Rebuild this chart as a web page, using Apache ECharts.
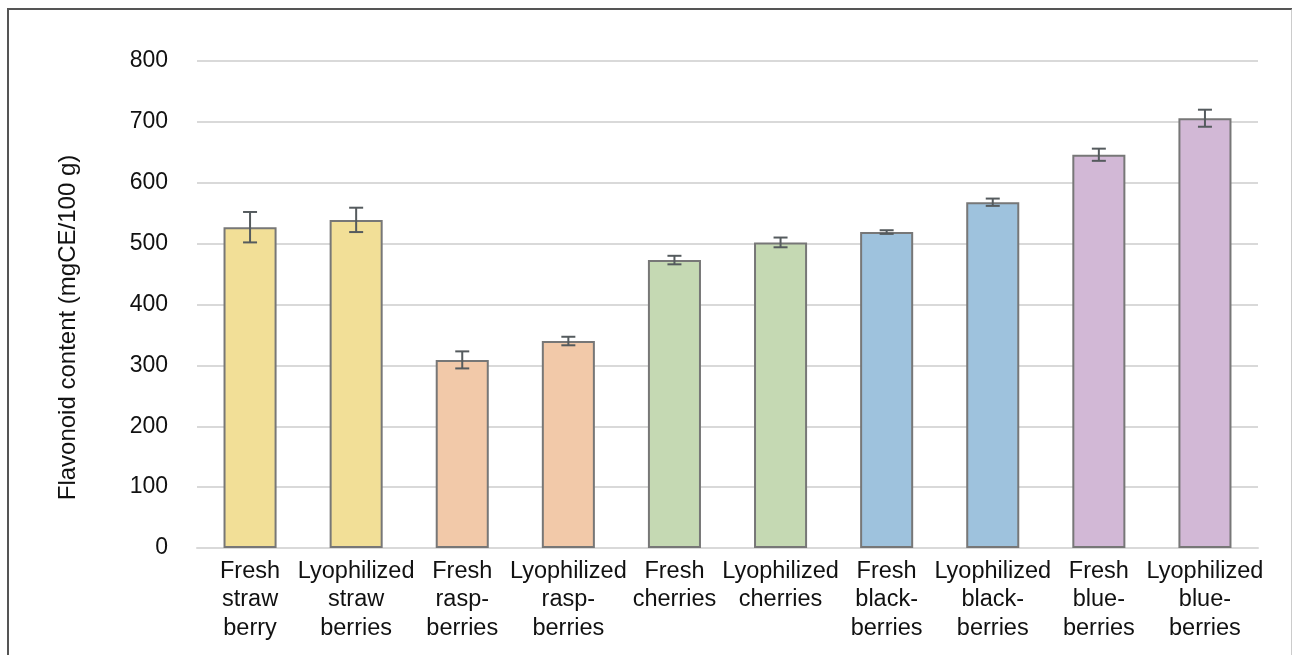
<!DOCTYPE html>
<html lang="en">
<head>
    <meta charset="UTF-8">
    <title>Flavonoid content</title>
    <script src="https://cdn.jsdelivr.net/npm/echarts@6/dist/echarts.min.js"></script>
    <style>
        body { margin: 0; background: #fff; }
        #frame { position: absolute; left: 7px; top: 8px; width: 1282px; height: 700px;
                 border-top: 2px solid #555; border-left: 2px solid #555; border-right: 2px solid #ccc; }
        #ec { position: absolute; left: 0; top: 0; width: 1292px; height: 655px; }
    </style>
</head>
<body>
    <div id="frame"></div>
    <div id="ec"></div>
<script>
    var categories = ['Fresh\nstraw\nberry', 'Lyophilized\nstraw\nberries', 'Fresh\nrasp-\nberries', 'Lyophilized\nrasp-\nberries',
        'Fresh\ncherries', 'Lyophilized\ncherries', 'Fresh\nblack-\nberries', 'Lyophilized\nblack-\nberries',
        'Fresh\nblue-\nberries', 'Lyophilized\nblue-\nberries']
    var values = [527, 539, 309, 340, 473, 502, 519, 568, 646, 706]
    var errors = [25, 20, 14, 7, 7, 8, 3, 6, 10, 14]
    var colors = ['#f2df97', '#f2df97', '#f2c9a9', '#f2c9a9', '#c5d9b3', '#c5d9b3',
        '#9ec2dd', '#9ec2dd', '#d2b8d6', '#d2b8d6']
    var yTicks = [0, 800, 100]

    var mychart = echarts.init(document.getElementById('ec'))

    var barData = values.map(function(v, i) {
        return { value: v, itemStyle: { color: colors[i] } }
    })
    var errData = values.map(function(v, i) {
        return [i, v - errors[i], v + errors[i]]
    })

    var options = {
        animation: false,
        textStyle: { fontFamily: 'Liberation Sans' },
        grid: { left: 197, right: 34, top: 61, bottom: 107 },
        xAxis: {
            type: 'category',
            data: categories,
            axisTick: { show: false },
            axisLine: { lineStyle: { color: '#d9d9d9', width: 2 } },
            axisLabel: { color: '#111', fontSize: 23.5, lineHeight: 28.5, margin: 9, interval: 0 }
        },
        yAxis: {
            type: 'value',
            min: yTicks[0],
            max: yTicks[1],
            interval: yTicks[2],
            name: 'Flavonoid content (mgCE/100 g)',
            nameLocation: 'middle',
            nameGap: 117,
            nameTextStyle: { color: '#111', fontSize: 24, padding: [0, 46, 0, 0] },
            axisLabel: { color: '#111', fontSize: 23, margin: 29 },
            splitLine: { lineStyle: { color: '#d9d9d9', width: 2 } }
        },
        series: [{
            type: 'bar',
            data: barData,
            barWidth: '50%',
            itemStyle: { borderColor: '#777', borderWidth: 2 }
        }, {
            type: 'custom',
            data: errData,
            z: 10,
            renderItem: function(params, api) {
                var x = api.value(0)
                var lo = api.coord([x, api.value(1)])
                var hi = api.coord([x, api.value(2)])
                var w = 7
                var style = { stroke: '#555b5e', lineWidth: 2 }
                return {
                    type: 'group',
                    children: [
                        { type: 'line', shape: { x1: hi[0], y1: hi[1], x2: lo[0], y2: lo[1] }, style: style },
                        { type: 'line', shape: { x1: hi[0] - w, y1: hi[1], x2: hi[0] + w, y2: hi[1] }, style: style },
                        { type: 'line', shape: { x1: lo[0] - w, y1: lo[1], x2: lo[0] + w, y2: lo[1] }, style: style }
                    ]
                }
            }
        }]
    }
    mychart.setOption(options)
</script>
</body>
</html>
